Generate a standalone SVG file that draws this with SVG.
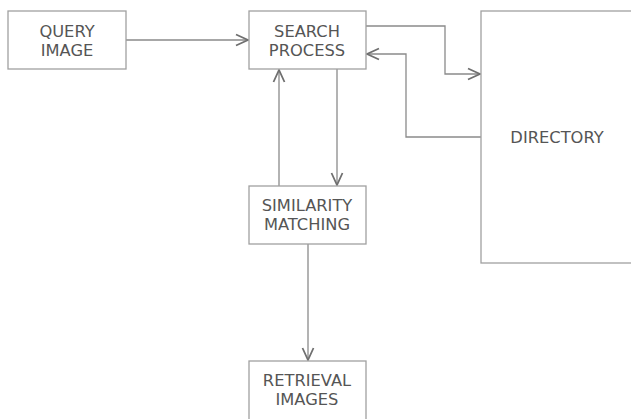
<svg xmlns="http://www.w3.org/2000/svg" width="631" height="419" viewBox="0 0 631 419">
<defs>
<marker id="arr" viewBox="0 0 14 14" refX="13" refY="7" markerWidth="14" markerHeight="14" markerUnits="userSpaceOnUse" orient="auto">
<path d="M1,1.5 L13,7 L1,12.5" fill="none" stroke="#6f6f6f" stroke-width="1.8"/>
</marker>
<style>
.box{fill:#fff;stroke:#a0a0a0;stroke-width:1.3}
.t{font-family:"DejaVu Sans",Verdana,sans-serif;font-size:16.3px;fill:#555;text-anchor:middle}
.c{fill:none;stroke:#8a8a8a;stroke-width:1.3;marker-end:url(#arr)}
</style>
</defs>
<rect width="631" height="419" fill="#fff"/>
<g id="connectors">
<path class="c" d="M126,40 H248"/>
<path class="c" d="M366,26 H445 V74 H480"/>
<path class="c" d="M481,137 H406 V54 H367"/>
<path class="c" d="M337,69 V185"/>
<path class="c" d="M279,186 V70"/>
<path class="c" d="M308,244 V360"/>
</g>
<g id="query">
<rect class="box" x="8" y="11" width="118" height="58"/>
<text class="t" x="67" y="37">QUERY</text>
<text class="t" x="67" y="56">IMAGE</text>
</g>
<g id="search">
<rect class="box" x="249" y="11" width="117" height="58"/>
<text class="t" x="307" y="37">SEARCH</text>
<text class="t" x="307" y="56">PROCESS</text>
</g>
<g id="directory">
<rect class="box" x="481" y="11" width="160" height="252"/>
<text class="t" x="557" y="143">DIRECTORY</text>
</g>
<g id="similarity">
<rect class="box" x="249" y="186" width="117" height="58"/>
<text class="t" x="307" y="211">SIMILARITY</text>
<text class="t" x="307" y="230">MATCHING</text>
</g>
<g id="retrieval">
<rect class="box" x="249" y="361" width="117" height="60"/>
<text class="t" x="307" y="386">RETRIEVAL</text>
<text class="t" x="307" y="405">IMAGES</text>
</g>
</svg>
